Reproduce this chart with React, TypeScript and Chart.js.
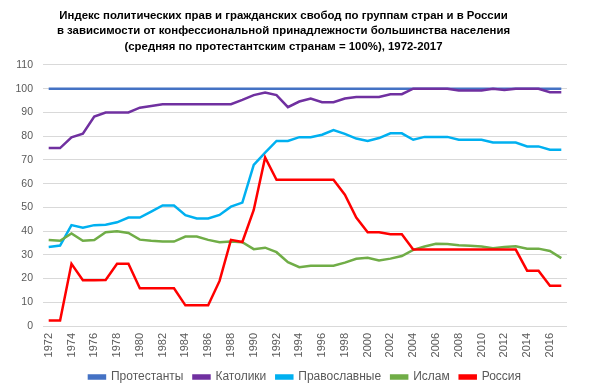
import { useEffect, useRef } from 'react';
import { Chart, registerables } from 'chart.js';

Chart.register(...registerables);

const years = [
  '1972', '1973', '1974', '1975', '1976', '1977', '1978', '1979', '1980', '1981',
  '1982', '1983', '1984', '1985', '1986', '1987', '1988', '1989', '1990', '1991',
  '1992', '1993', '1994', '1995', '1996', '1997', '1998', '1999', '2000', '2001',
  '2002', '2003', '2004', '2005', '2006', '2007', '2008', '2009', '2010', '2011',
  '2012', '2013', '2014', '2015', '2016', '2017',
];

const protestants = [
  100, 100, 100, 100, 100, 100, 100, 100, 100, 100,
  100, 100, 100, 100, 100, 100, 100, 100, 100, 100,
  100, 100, 100, 100, 100, 100, 100, 100, 100, 100,
  100, 100, 100, 100, 100, 100, 100, 100, 100, 100,
  100, 100, 100, 100, 100, 100,
];

const catholics = [
  75, 75, 79.5, 81, 88.3, 90, 90, 90, 92, 92.7,
  93.5, 93.5, 93.5, 93.5, 93.5, 93.5, 93.5, 95.3, 97.3, 98.4,
  97.3, 92.2, 94.6, 95.9, 94.3, 94.3, 95.9, 96.5, 96.5, 96.5,
  97.7, 97.7, 100, 100, 100, 100, 99.3, 99.3, 99.3, 100,
  99.5, 100, 100, 100, 98.5, 98.5,
];

const orthodox = [
  33.3, 33.9, 42.5, 41.4, 42.5, 42.7, 43.7, 45.7, 45.7, 48.2,
  50.8, 50.8, 46.7, 45.3, 45.3, 46.8, 50.3, 52, 67.9, 73.1,
  78, 78, 79.6, 79.6, 80.6, 82.6, 81, 79, 78, 79.2,
  81.2, 81.2, 78.5, 79.7, 79.7, 79.7, 78.5, 78.5, 78.5, 77.3,
  77.3, 77.3, 75.7, 75.7, 74.3, 74.3,
];

const islam = [
  36.2, 35.9, 39, 35.9, 36.2, 39.5, 39.9, 39.2, 36.4, 35.9,
  35.6, 35.6, 37.7, 37.7, 36.3, 35.3, 35.6, 35.3, 32.4, 33,
  31.1, 26.9, 24.8, 25.4, 25.4, 25.4, 26.7, 28.3, 28.8, 27.6,
  28.4, 29.5, 32.1, 33.5, 34.7, 34.6, 34, 33.8, 33.5, 32.8,
  33.3, 33.6, 32.6, 32.6, 31.6, 28.6,
];

const russia = [
  2.3, 2.3, 26.2, 19.3, 19.3, 19.4, 26.2, 26.2, 15.9, 15.9,
  15.9, 15.9, 8.7, 8.7, 8.7, 19, 36.3, 35.4, 48.9, 71,
  61.6, 61.6, 61.6, 61.6, 61.6, 61.6, 55.3, 45.7, 39.5, 39.5,
  38.7, 38.7, 32.2, 32.2, 32.2, 32.2, 32.2, 32.2, 32.2, 32.2,
  32.2, 32.2, 23.3, 23.3, 17, 17,
];

const seriesNames = ['Протестанты', 'Католики', 'Православные', 'Ислам', 'Россия'];
const seriesColors = ['#4472C4', '#7030A0', '#00B0F0', '#70AD47', '#FF0000'];

const titleLines = [
  'Индекс политических прав и гражданских свобод по группам стран и в России',
  'в зависимости от конфессиональной принадлежности большинства населения',
  '(средняя по протестантским странам = 100%), 1972-2017',
];

const FONT = "'Liberation Sans', Arial, sans-serif";

export default function App() {
  const canvasRef = useRef<HTMLCanvasElement | null>(null);

  useEffect(() => {
    document.body.style.margin = '0';
    const canvas = canvasRef.current;
    if (!canvas) return;
    const allSeries = [protestants, catholics, orthodox, islam, russia];
    const chart = new Chart(canvas, {
      type: 'line',
      data: {
        labels: years,
        datasets: allSeries.map((d, i) => ({
          label: seriesNames[i],
          data: d,
          borderColor: seriesColors[i],
          backgroundColor: seriesColors[i],
          borderWidth: 2.5,
          pointRadius: 0,
          tension: 0,
          fill: false,
          order: 4 - i,
        })),
      },
      options: {
        responsive: false,
        animation: false,
        layout: { padding: { left: 0, right: 33, top: 0, bottom: -2 } },
        plugins: {
          title: {
            display: true,
            text: titleLines,
            color: '#000000',
            font: { family: FONT, size: 11.4, weight: 'bold', lineHeight: 1.377 },
            padding: { top: 7.6, bottom: 10.3 },
          },
          legend: {
            display: true,
            position: 'bottom',
            fullSize: false,
            labels: {
              color: '#595959',
              font: { family: FONT, size: 12 },
              boxWidth: 16,
              boxHeight: 3,
              padding: 10,
              sort: (a: any, b: any) => a.datasetIndex - b.datasetIndex,
            },
          },
          tooltip: { enabled: false },
        },
        scales: {
          x: {
            offset: true,
            grid: { display: false, drawTicks: false },
            border: { display: false },
            ticks: {
              autoSkip: false,
              minRotation: 90,
              maxRotation: 90,
              padding: 7,
              color: '#595959',
              font: { family: FONT, size: 11 },
              callback: (_v: any, idx: number) => (idx % 2 === 0 ? years[idx] : ''),
            },
            afterFit: (scale: any) => {
              scale.height = 35;
            },
          },
          y: {
            min: 0,
            max: 110,
            grid: { color: '#d9d9d9', lineWidth: 1, drawTicks: false },
            border: { display: false },
            ticks: {
              stepSize: 10,
              padding: 10,
              color: '#595959',
              font: { family: FONT, size: 10.5 },
            },
            afterFit: (scale: any) => {
              scale.width = 43;
            },
          },
        },
      },
    });
    return () => chart.destroy();
  }, []);

  return (
    <div style={{ width: 600, height: 391, background: '#ffffff' }}>
      <canvas ref={canvasRef} width={600} height={391} style={{ width: 600, height: 391 }} />
    </div>
  );
}
